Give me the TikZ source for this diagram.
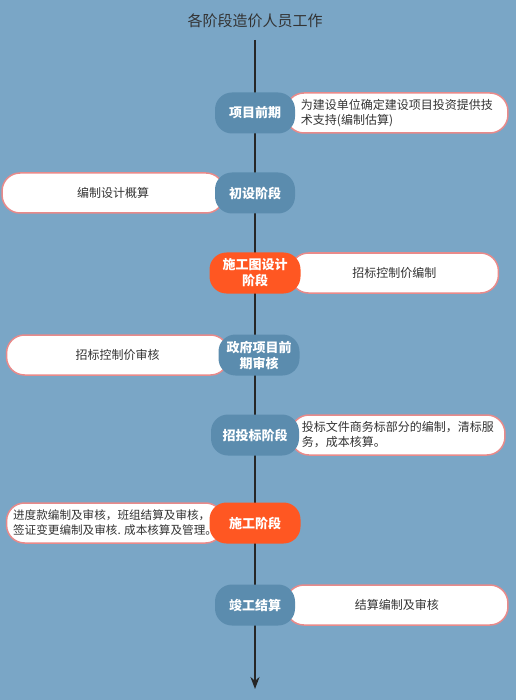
\documentclass[tikz,border=0pt]{standalone}
\usepackage{fontspec}
\usepackage{tikz}
\newfontfamily\cjk{Noto Sans CJK SC}
\usetikzlibrary{positioning}
\usetikzlibrary{arrows.meta}
\definecolor{bgblue}{HTML}{7AA6C6}
\definecolor{stageblue}{HTML}{5B8CAE}
\definecolor{stageorange}{HTML}{FF5722}
\definecolor{boxline}{HTML}{E98A8A}
\definecolor{textgray}{HTML}{333333}
\pgfdeclarelayer{back}
\pgfsetlayers{back,main}
\tikzstyle{stage} = [rectangle, rounded corners=17pt, minimum width=80pt, minimum height=41pt, text centered, align=center, fill=stageblue, text=white, font=\cjk\bfseries\fontsize{13pt}{16pt}\selectfont]
\tikzstyle{hot} = [stage, fill=stageorange]
\tikzstyle{work} = [rectangle, rounded corners=18pt, minimum height=40pt, align=left, draw=boxline, line width=1.5pt, fill=white, text=textgray, font=\cjk\fontsize{12pt}{15pt}\selectfont]
\tikzstyle{arrow} = [line width=2pt, draw=black!85, ->, >={Stealth[length=12pt,width=9pt]}]

\begin{document}
\begin{tikzpicture}[node distance=80pt]
        \begin{pgfonlayer}{back}
        \fill [bgblue] (0,0) rectangle (516pt,-700pt);
        \end{pgfonlayer}
        \useasboundingbox (0,0) rectangle (516pt,-700pt);

        \node (title) [text=textgray, font=\cjk\fontsize{15pt}{18pt}\selectfont] at (255pt,-21pt) {各阶段造价人员工作};
        \coordinate (top) at (255pt,-40pt);
        \coordinate (bottom) at (255pt,-689pt);
        \draw [arrow] (top) -- (bottom);

        \node (early) [stage] at (255pt,-113pt) {项目前期};
        \node (prelim) [stage, below of=early] {初设阶段};
        \node (drawing) [hot, below of=prelim, minimum width=91pt] {施工图设计\\阶段};
        \node (review) [stage, below of=drawing, yshift=-2pt, xshift=4pt, minimum width=81pt] {政府项目前\\期审核};
        \node (bidding) [stage, below of=review, xshift=-4pt, minimum width=88pt] {招投标阶段};
        \node (build) [hot, below of=bidding, yshift=-8pt, minimum width=91pt] {施工阶段};
        \node (settle) [stage, below of=build, yshift=-2pt] {竣工结算};

        \begin{pgfonlayer}{back}
        \node (earlyWork) [work, right=-10pt of early, minimum width=222pt] {为建设单位确定建设项目投资提供技\\术支持(编制估算)};
        \node (prelimWork) [work, left=-10pt of prelim, minimum width=222pt] {编制设计概算};
        \node (drawingWork) [work, right=-11pt of drawing, minimum width=208pt] {招标控制价编制};
        \node (reviewWork) [work, left=-11pt of review, minimum width=222pt] {招标控制价审核};
        \node (biddingWork) [work, right=-9pt of bidding, minimum width=214pt] {投标文件商务标部分的编制，清标服\\务，成本核算。};
        \node (buildWork) [work, left=-15pt of build, minimum width=217pt, font=\cjk\fontsize{11.6pt}{15pt}\selectfont] {进度款编制及审核，班组结算及审核，\\签证变更编制及审核. 成本核算及管理。};
        \node (settleWork) [work, right=-10pt of settle, minimum width=222pt] {结算编制及审核};
        \end{pgfonlayer}
    \end{tikzpicture}
\end{document}
